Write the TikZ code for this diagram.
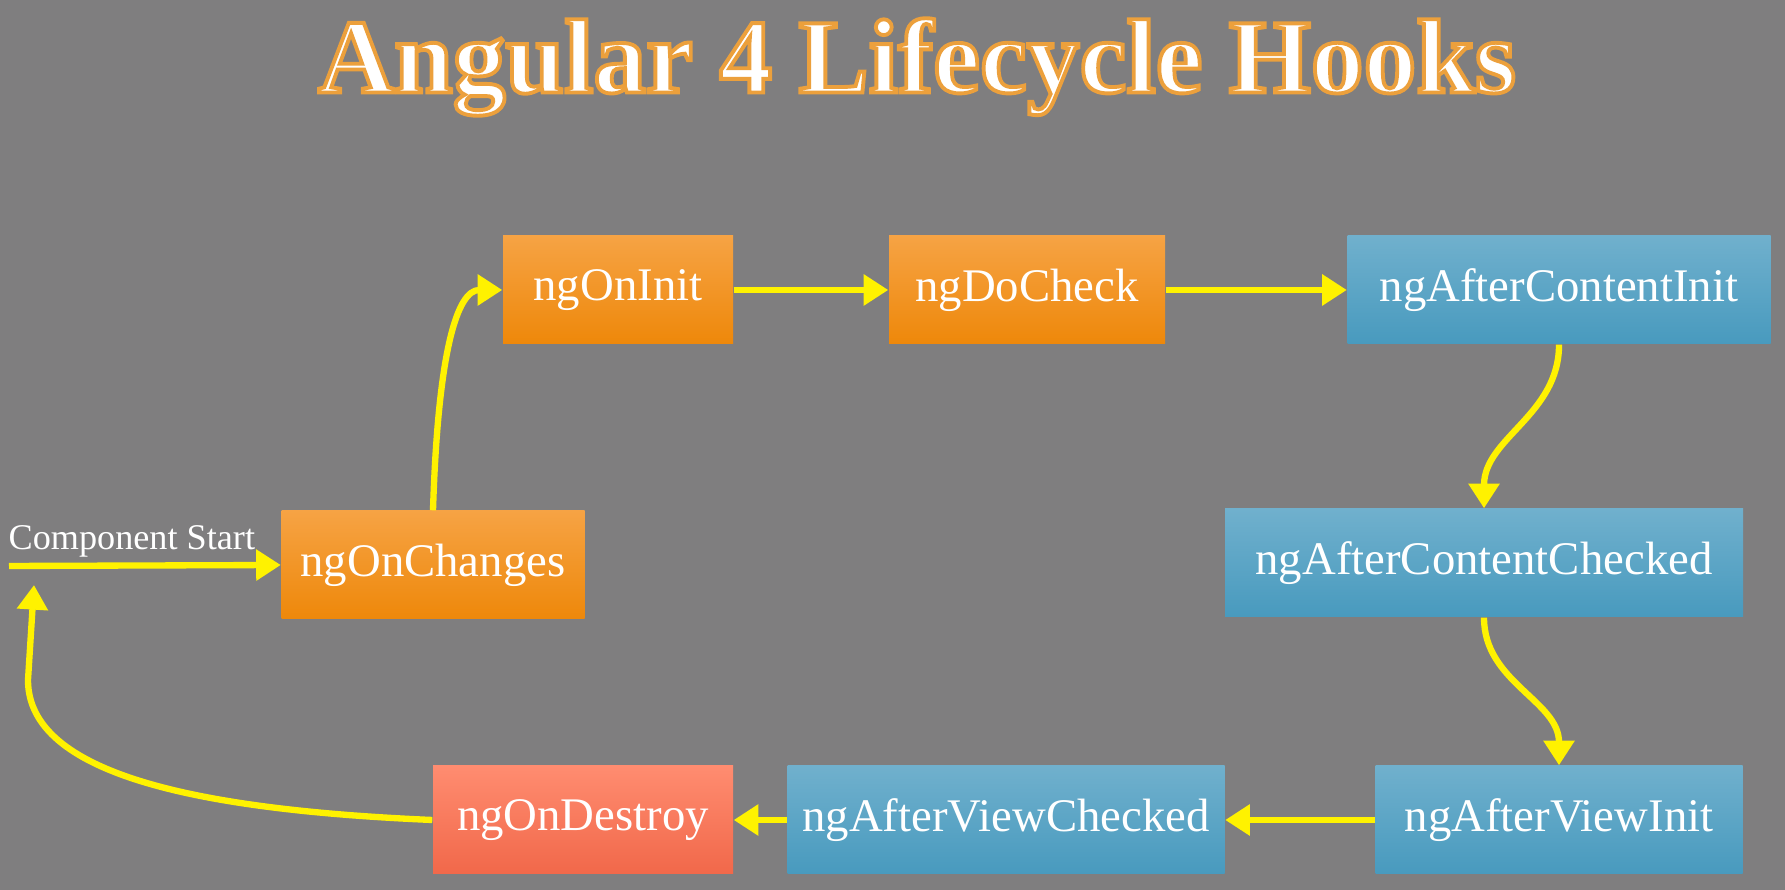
\documentclass[tikz,border=0pt]{standalone}
\usepackage{fontspec}
\setmainfont{Liberation Serif}
\usepackage{tikz}
\usetikzlibrary{positioning, arrows.meta, shadows}
\usepackage{xcolor}

\definecolor{slidegray}{RGB}{127,126,127}
\definecolor{hookorangetop}{RGB}{246,163,68}
\definecolor{hookorangebot}{RGB}{238,136,10}
\definecolor{hookbluetop}{RGB}{112,176,205}
\definecolor{hookbluebot}{RGB}{72,154,190}
\definecolor{hookredtop}{RGB}{255,140,112}
\definecolor{hookredbot}{RGB}{241,104,74}

% white letters with an orange rim
\newcommand{\glowtext}[1]{\special{pdf:literal direct 2 Tr 1.1 w 0.925 0.627 0.235 RG}#1\special{pdf:literal direct 0 Tr}}

\begin{document}
\begin{tikzpicture}[
    hook/.style={minimum height=1.08cm, inner sep=0pt, text=white,
      font=\fontsize{13.3}{16}\selectfont,
      drop shadow={shadow xshift=1.5pt, shadow yshift=-1.5pt, opacity=0.45}},
    initbox/.style={hook, top color=hookorangetop, bottom color=hookorangebot},
    viewbox/.style={hook, top color=hookbluetop, bottom color=hookbluebot},
    endbox/.style={hook, top color=hookredtop, bottom color=hookredbot},
    flow/.style={-{Triangle[length=7pt,width=8.5pt]}, line width=1.8pt, yellow}
  ]
          \fill[slidegray] (0,0) rectangle (17.85,8.9);
          \node[font=\fontsize{30}{34}\selectfont\bfseries, text=white] (title) at (9.17,8.23)
            {\glowtext{Angular 4 Lifecycle Hooks}};

          \node[initbox, minimum width=3.03cm] (chg) at (4.33,3.25) {ngOnChanges};
          \node[initbox, minimum width=2.30cm] (init) at (6.18,6.00) {ngOnInit};
          \node[initbox, minimum width=2.76cm] (chk) at (10.27,6.00) {ngDoCheck};
          \node[viewbox, minimum width=4.23cm] (aci) at (15.59,6.00) {ngAfterContentInit};
          \node[viewbox, minimum width=5.18cm] (acc) at (14.84,3.27) {ngAfterContentChecked};
          \node[viewbox, minimum width=3.67cm] (avi) at (15.59,0.70) {ngAfterViewInit};
          \node[viewbox, minimum width=4.37cm] (avc) at (10.06,0.70) {ngAfterViewChecked};
          \node[endbox, minimum width=3.00cm] (dst) at (5.83,0.70) {ngOnDestroy};

          \node[font=\fontsize{10.3}{12}\selectfont, text=white, anchor=base west, inner sep=0pt]
            (start) at (0.08,3.40) {Component Start};
          \coordinate (cs) at (0.09,3.24);
          \coordinate (ret) at (0.34,3.05);

          \draw[flow] (cs) -- (chg.west);
          \draw[flow] (chg.north) .. controls +(0.05,1.6) and +(-0.45,0) .. (init.west);
          \draw[flow] (init.east) -- (chk.west);
          \draw[flow] (chk.east) -- (aci.west);
          \draw[flow] (aci.south) to[out=-90, in=90] (acc.north);
          \draw[flow] (acc.south) to[out=-90, in=90] (avi.north);
          \draw[flow] (avi.west) -- (avc.east);
          \draw[flow] (avc.west) -- (dst.east);
          \draw[flow] (dst.west) .. controls (2.0,0.80) and (0.28,1.15) .. (0.28,2.10) -- (ret);
        \end{tikzpicture}
\end{document}
